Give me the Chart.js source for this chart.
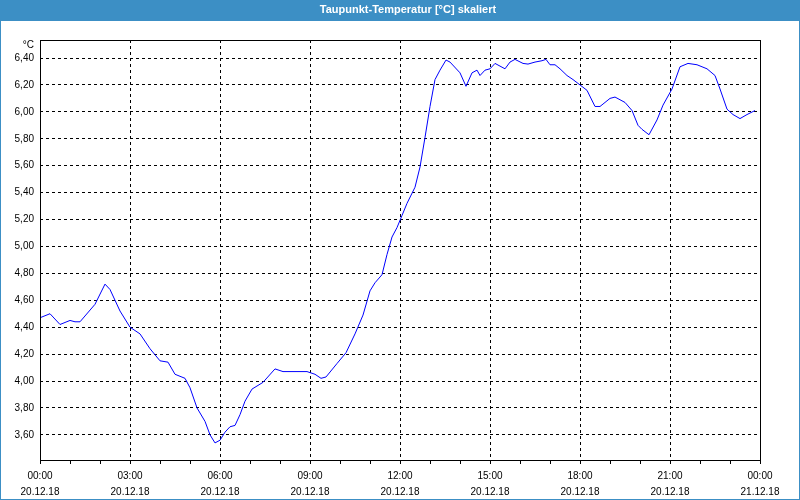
<!DOCTYPE html>
<html>
<head>
<meta charset="utf-8">
<script src="https://cdn.jsdelivr.net/npm/chart.js@4"></script>
<style>
  html, body { margin: 0; padding: 0; background: #fff; }
  #wrap { width: 800px; height: 500px; }
</style>
</head>
<body>
<div id="wrap"><canvas id="dewChart" width="800" height="500"></canvas></div>
<script>
// minutes since 20.12.18 00:00
const minutes = [0, 20, 40, 60, 70, 80, 110, 130, 140, 160, 180, 200, 220, 240, 256, 270, 290, 300, 314, 330,
  340, 350, 360, 370, 380, 390, 400, 410, 424, 446, 470, 486, 534, 550, 562, 572, 594, 612, 630, 646,
  660, 670, 684, 694, 704, 714, 724, 734, 750, 760, 770, 780, 790, 800, 812, 820, 840, 852, 864, 874,
  880, 890, 900, 910, 930, 940, 950, 966, 976, 990, 1004, 1012, 1020, 1030, 1040, 1054, 1066, 1080, 1094, 1110,
  1120, 1140, 1150, 1170, 1184, 1196, 1204, 1218, 1234, 1246, 1264, 1280, 1296, 1314, 1334, 1350, 1360, 1374, 1386, 1400,
  1414, 1430];
// dew point in °C
const dewPoint = [4.47, 4.50, 4.42, 4.45, 4.44, 4.44, 4.57, 4.72, 4.68, 4.52, 4.40, 4.35, 4.24, 4.15, 4.14, 4.05, 4.02, 3.95, 3.80, 3.70,
  3.60, 3.54, 3.56, 3.62, 3.66, 3.67, 3.75, 3.85, 3.94, 3.99, 4.09, 4.07, 4.07, 4.05, 4.02, 4.03, 4.13, 4.21, 4.35, 4.49,
  4.67, 4.73, 4.79, 4.94, 5.07, 5.14, 5.23, 5.32, 5.44, 5.59, 5.81, 6.04, 6.24, 6.31, 6.385, 6.37, 6.29, 6.19, 6.29, 6.31,
  6.27, 6.31, 6.32, 6.36, 6.32, 6.37, 6.39, 6.36, 6.355, 6.37, 6.38, 6.39, 6.35, 6.35, 6.32, 6.27, 6.24, 6.20, 6.16, 6.04,
  6.04, 6.10, 6.11, 6.07, 6.01, 5.90, 5.87, 5.83, 5.94, 6.05, 6.17, 6.335, 6.36, 6.35, 6.32, 6.27, 6.17, 6.02, 5.98, 5.95,
  5.98, 6.01];

const yTicks = [3.6, 3.8, 4.0, 4.2, 4.4, 4.6, 4.8, 5.0, 5.2, 5.4, 5.6, 5.8, 6.0, 6.2, 6.4];
const timeLabels = ['00:00', '03:00', '06:00', '09:00', '12:00', '15:00', '18:00', '21:00', '00:00'];
const dateLabels = ['20.12.18', '20.12.18', '20.12.18', '20.12.18', '20.12.18', '20.12.18', '20.12.18', '20.12.18', '21.12.18'];

const barBlue = '#3c8fc5';
const fontFam = '"Liberation Sans", Arial, sans-serif';

// title bar, window border, plot frame and unit label
const framePlugin = {
  id: 'frame',
  beforeDraw(chart) {
    const c = chart.ctx;
    c.save();
    c.fillStyle = '#fff';
    c.fillRect(0, 0, chart.width, chart.height);
    c.fillStyle = barBlue;
    c.fillRect(0, 0, chart.width, 21);
    c.fillStyle = '#fff';
    c.font = 'bold 11px ' + fontFam;
    c.textAlign = 'center';
    c.textBaseline = 'middle';
    c.fillText('Taupunkt-Temperatur [°C] skaliert', 408, 10);
    c.strokeStyle = barBlue;
    c.lineWidth = 1;
    c.strokeRect(0.5, 0.5, chart.width - 1, chart.height - 1);
    c.restore();
  },
  afterDraw(chart) {
    const a = chart.chartArea;
    const c = chart.ctx;
    c.save();
    c.strokeStyle = '#000';
    c.lineWidth = 1;
    c.strokeRect(a.left + 0.5, a.top + 0.5, a.right - a.left, a.bottom - a.top);
    c.fillStyle = '#000';
    c.font = '10px ' + fontFam;
    c.textAlign = 'right';
    c.textBaseline = 'middle';
    c.fillText('°C', 34, 45);
    c.restore();
  }
};

const ctx = document.getElementById('dewChart').getContext('2d');
const myChart = new Chart(ctx, {
  type: 'line',
  data: {
    datasets: [{
      label: 'Taupunkt',
      data: minutes.map((m, i) => ({ x: m, y: dewPoint[i] })),
      borderColor: '#0000ff',
      borderWidth: 1,
      pointRadius: 0,
      tension: 0,
      fill: false
    }]
  },
  options: {
    responsive: false,
    animation: false,
    layout: { padding: { top: 40, right: 40, left: 0, bottom: 0 } },
    plugins: {
      legend: { display: false },
      title: { display: false },
      tooltip: { enabled: false }
    },
    scales: {
      x: {
        type: 'linear',
        min: 0,
        max: 1440,
        afterFit: s => { s.height = 40; },
        afterBuildTicks: s => {
          s.ticks = [];
          for (let h = 0; h <= 24; h++) s.ticks.push({ value: h * 60 });
        },
        ticks: {
          autoSkip: false,
          maxRotation: 0,
          padding: 4,
          color: '#000',
          font: { family: fontFam, size: 10, lineHeight: 1.6 },
          callback: v => (v % 180 === 0 ? [timeLabels[v / 180], dateLabels[v / 180]] : '')
        },
        grid: {
          color: c => (c.tick && c.tick.value % 180 === 0 ? '#000' : 'rgba(0,0,0,0)'),
          lineWidth: 1,
          drawTicks: true,
          tickLength: 4,
          tickColor: '#000',
          tickBorderDash: []
        },
        border: { display: false, dash: [3, 3] }
      },
      y: {
        min: 3.413,
        max: 6.534,
        afterFit: s => { s.width = 40; },
        afterBuildTicks: s => { s.ticks = yTicks.map(v => ({ value: v })); },
        ticks: {
          padding: 6,
          color: '#000',
          font: { family: fontFam, size: 10 },
          callback: v => v.toFixed(2).replace('.', ',')
        },
        grid: {
          color: '#000',
          lineWidth: 1,
          drawTicks: false
        },
        border: { display: false, dash: [3, 3] }
      }
    }
  },
  plugins: [framePlugin]
});
</script>
</body>
</html>
